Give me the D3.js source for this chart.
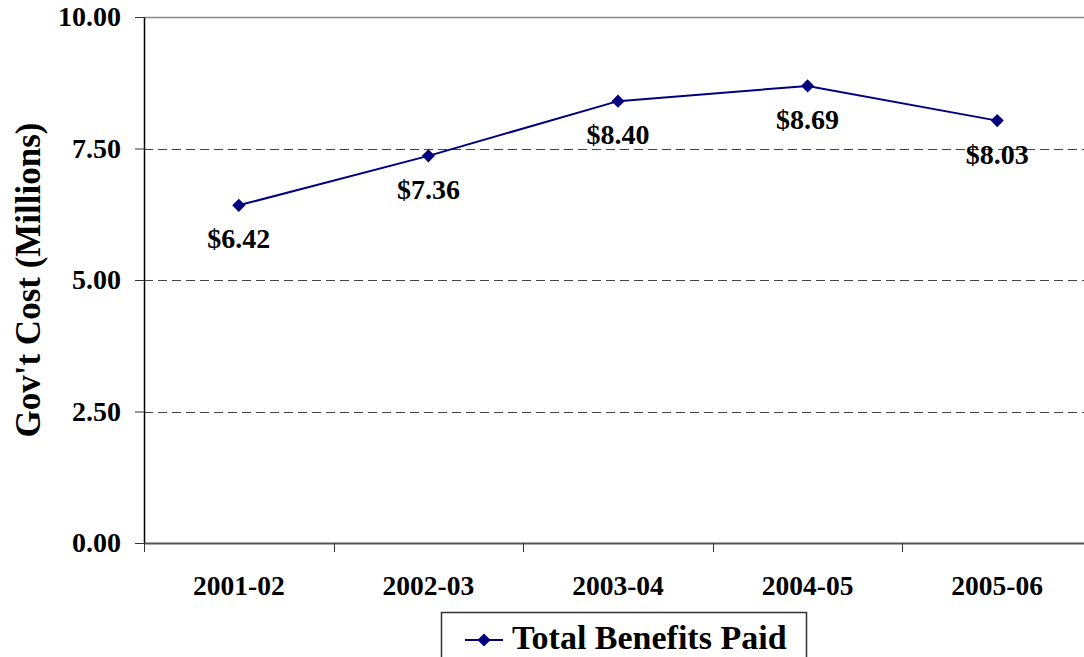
<!DOCTYPE html>
<html>
<head>
<meta charset="utf-8">
<script src="https://cdn.jsdelivr.net/npm/d3@7"></script>
<style>
  body { margin: 0; background: #fff; }
  svg { display: block; font-family: "Liberation Serif", "Times New Roman", serif; font-weight: bold; }
</style>
</head>
<body>
<div id="chart"></div>
<script>
const categories = ["2001-02", "2002-03", "2003-04", "2004-05", "2005-06"];
const benefits = [6.42, 7.36, 8.40, 8.69, 8.03];
const yTicks = [0, 2.5, 5, 7.5, 10];
const seriesName = "Total Benefits Paid";

const width = 1084, height = 657;
const plot = { left: 144, top: 17, right: 1092, bottom: 543 };

const svg = d3.select("#chart")
    .append("svg")
    .attr("width", width)
    .attr("height", height);

const xScale = d3.scaleBand()
    .domain(categories)
    .range([plot.left, plot.right]);

const yScale = d3.scaleLinear()
    .domain([0, 10])
    .range([plot.bottom, plot.top]);

// gridlines
svg.append("g")
    .selectAll("line")
    .data(yTicks.filter(d => d > 0 && d < 10))
    .join("line")
    .attr("x1", plot.left)
    .attr("x2", plot.right)
    .attr("y1", d => Math.round(yScale(d)) + 0.5)
    .attr("y2", d => Math.round(yScale(d)) + 0.5)
    .attr("stroke", "#444")
    .attr("stroke-dasharray", "9,5");

// top border
svg.append("line")
    .attr("x1", plot.left).attr("x2", plot.right)
    .attr("y1", plot.top + 0.5).attr("y2", plot.top + 0.5)
    .attr("stroke", "#888")
    .attr("stroke-width", 1.5);

// y axis
const yAxis = svg.append("g")
    .attr("transform", `translate(${plot.left},0)`)
    .call(d3.axisLeft(yScale).tickValues(yTicks).tickFormat(d3.format(".2f")).tickSizeOuter(0).tickSizeInner(9).tickPadding(14));
yAxis.select(".domain").attr("stroke", "#000").attr("stroke-width", 1.5);
yAxis.selectAll(".tick line").attr("stroke", "#333");
yAxis.selectAll("text")
    .attr("font-family", "Liberation Serif, serif")
    .attr("font-size", 28)
    .attr("font-weight", "bold")
    .attr("fill", "#000");

// x axis
const xAxis = svg.append("g")
    .attr("transform", `translate(0,${plot.bottom})`)
    .call(d3.axisBottom(xScale).tickSize(0).tickPadding(32));
xAxis.select(".domain").attr("stroke", "#555").attr("stroke-width", 2);
xAxis.selectAll("text")
    .attr("font-family", "Liberation Serif, serif")
    .attr("font-size", 27.5)
    .attr("font-weight", "bold")
    .attr("fill", "#000");

// x tick marks between categories
svg.append("g")
    .selectAll("line")
    .data(categories)
    .join("line")
    .attr("x1", d => Math.round(xScale(d)) + 0.5)
    .attr("x2", d => Math.round(xScale(d)) + 0.5)
    .attr("y1", plot.bottom)
    .attr("y2", plot.bottom + 9)
    .attr("stroke", "#333");

// y title
svg.append("text")
    .attr("transform", `translate(40,280) rotate(-90)`)
    .attr("text-anchor", "middle")
    .attr("font-size", 35)
    .attr("fill", "#000")
    .text("Gov't Cost (Millions)");

const cx = d => xScale(d) + xScale.bandwidth() / 2;
const diamond = d3.symbol().type(d3.symbolDiamond2).size(110);

// line
svg.append("path")
    .datum(benefits)
    .attr("fill", "none")
    .attr("stroke", "#000080")
    .attr("stroke-width", 2)
    .attr("d", d3.line()
        .x((d, i) => cx(categories[i]))
        .y(d => yScale(d)));

svg.append("g")
    .selectAll("path")
    .data(benefits)
    .join("path")
    .attr("transform", (d, i) => `translate(${cx(categories[i])},${yScale(d)})`)
    .attr("d", diamond)
    .attr("fill", "#000080");

// data labels
svg.append("g")
    .selectAll("text")
    .data(benefits)
    .join("text")
    .attr("x", (d, i) => cx(categories[i]))
    .attr("y", d => yScale(d) + 43)
    .attr("text-anchor", "middle")
    .attr("font-size", 28)
    .attr("fill", "#000")
    .text(d => "$" + d3.format(".2f")(d));

// legend
const legend = svg.append("g");
legend.append("rect")
    .attr("x", 441.5).attr("y", 612.5)
    .attr("width", 365).attr("height", 60)
    .attr("fill", "#fff")
    .attr("stroke", "#333")
    .attr("stroke-width", 1.5);
legend.append("line")
    .attr("x1", 465).attr("x2", 503)
    .attr("y1", 640).attr("y2", 640)
    .attr("stroke", "#000080")
    .attr("stroke-width", 2);
legend.append("path")
    .attr("transform", "translate(484,640)")
    .attr("d", diamond)
    .attr("fill", "#000080");
legend.append("text")
    .attr("x", 512)
    .attr("y", 649)
    .attr("font-size", 34)
    .attr("fill", "#000")
    .text(seriesName);
</script>
</body>
</html>
